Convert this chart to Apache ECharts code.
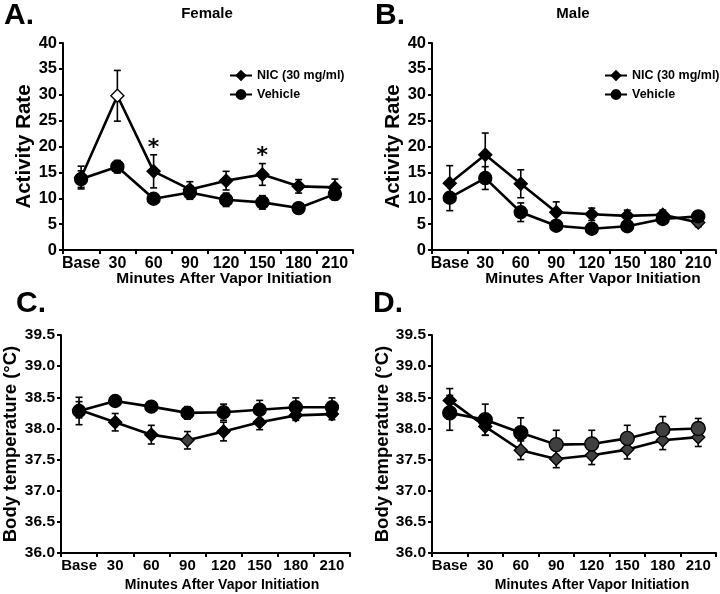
<!DOCTYPE html>
<html>
<head>
<meta charset="utf-8">
<script src="https://cdn.jsdelivr.net/npm/echarts@6/dist/echarts.min.js"></script>
<style>
html, body { margin: 0; padding: 0; background: #fff; }
#main { width: 720px; height: 594px; }
</style>
</head>
<body>
<div id="main"></div>
<script>
// x categories, same for all four panels
var minutes = ['Base', '30', '60', '90', '120', '150', '180', '210'];

// A. Female activity
var femNic = [14.0, 29.8, 15.2, 11.7, 13.4, 14.6, 12.3, 12.1];
var femNicErr = [2.2, 4.9, 3.2, 1.5, 1.8, 2.1, 1.3, 1.6];
var femVeh = [13.7, 16.1, 9.9, 11.1, 9.7, 9.2, 8.1, 10.8];
var femVehErr = [1.6, 1.2, 0.8, 1.3, 1.3, 1.3, 0.9, 1.1];
var femStars = [[2, 19.6], [5, 18.2]];

// B. Male activity
var maleNic = [12.9, 18.4, 12.8, 7.3, 6.9, 6.6, 6.8, 5.3];
var maleNicErr = [3.4, 4.2, 2.7, 2.0, 1.2, 1.1, 0.9, 0.8];
var maleVeh = [10.1, 13.9, 7.3, 4.7, 4.1, 4.6, 6.0, 6.5];
var maleVehErr = [2.5, 2.2, 1.8, 0.5, 0.5, 0.5, 0.6, 0.5];

// C. Female body temperature
var femTNic = [38.30, 38.10, 37.90, 37.81, 37.95, 38.10, 38.21, 38.23];
var femTNicErr = [0.13, 0.14, 0.15, 0.14, 0.15, 0.12, 0.08, 0.09];
var femTVeh = [38.28, 38.44, 38.35, 38.25, 38.26, 38.30, 38.34, 38.34];
var femTVehErr = [0.22, 0.04, 0.06, 0.10, 0.13, 0.15, 0.15, 0.15];

// D. Male body temperature
var maleTNic = [38.45, 38.03, 37.65, 37.51, 37.57, 37.66, 37.81, 37.86];
var maleTNicErr = [0.19, 0.14, 0.15, 0.14, 0.15, 0.15, 0.15, 0.15];
var maleTVeh = [38.25, 38.14, 37.93, 37.74, 37.75, 37.84, 37.98, 38.00];
var maleTVehErr = [0.28, 0.25, 0.24, 0.23, 0.22, 0.21, 0.21, 0.16];

var FONT = '"Liberation Sans", Arial, sans-serif';
var NIC = 'NIC (30 mg/ml)';
var VEH = 'Vehicle';

function errData(mean, err) {
    var out = [];
    for (var i = 0; i < mean.length; i++) {
        out.push([i, mean[i] - err[i], mean[i] + err[i]]);
    }
    return out;
}

function renderErr(params, api) {
    var top = api.coord([api.value(0), api.value(2)]);
    var bot = api.coord([api.value(0), api.value(1)]);
    var w = 3.5;
    var st = { stroke: '#000', lineWidth: 1.6 };
    return {
        type: 'group',
        children: [
            { type: 'line', shape: { x1: top[0], y1: top[1], x2: bot[0], y2: bot[1] }, style: st },
            { type: 'line', shape: { x1: top[0] - w, y1: top[1], x2: top[0] + w, y2: top[1] }, style: st },
            { type: 'line', shape: { x1: bot[0] - w, y1: bot[1], x2: bot[0] + w, y2: bot[1] }, style: st }
        ]
    };
}

function errSeries(idx, mean, err) {
    return {
        type: 'custom',
        name: 'err' + idx + '_' + mean[0],
        xAxisIndex: idx,
        yAxisIndex: idx,
        z: 1,
        silent: true,
        renderItem: renderErr,
        data: errData(mean, err)
    };
}

function pts(vals, fills) {
    return vals.map(function (v, i) {
        if (fills && fills[i]) {
            return { value: v, itemStyle: { color: fills[i] } };
        }
        return v;
    });
}

function lineSeries(idx, name, vals, symbol, size, fills) {
    return {
        type: 'line',
        name: name,
        xAxisIndex: idx,
        yAxisIndex: idx,
        z: 3,
        symbol: symbol,
        symbolSize: size,
        showAllSymbol: true,
        lineStyle: { color: '#000', width: 2.6 },
        itemStyle: { color: '#000', borderColor: '#000', borderWidth: 1.4 },
        data: pts(vals, fills)
    };
}

function xAx(idx, fs, margin) {
    return {
        type: 'category',
        gridIndex: idx,
        data: minutes,
        boundaryGap: true,
        axisLine: { lineStyle: { color: '#000', width: 2 } },
        axisTick: { show: true, length: 4, lineStyle: { color: '#000', width: 2 } },
        axisLabel: { color: '#000', fontFamily: FONT, fontWeight: 'bold', fontSize: fs, margin: margin, interval: 0 },
        splitLine: { show: false }
    };
}

function yAx(idx, min, max, step, name, fs, nfs, gap, dec) {
    return {
        type: 'value',
        gridIndex: idx,
        min: min,
        max: max,
        interval: step,
        name: name,
        nameLocation: 'middle',
        nameGap: gap,
        nameTextStyle: { color: '#000', fontFamily: FONT, fontWeight: 'bold', fontSize: nfs },
        axisLine: { show: true, lineStyle: { color: '#000', width: 2 } },
        axisTick: { show: true, length: 4, lineStyle: { color: '#000', width: 2 } },
        axisLabel: {
            color: '#000', fontFamily: FONT, fontWeight: 'bold', fontSize: fs, margin: 6,
            formatter: function (v) { return dec ? v.toFixed(1) : String(v); }
        },
        splitLine: { show: false }
    };
}

function txt(x, y, s, fs, align) {
    return {
        type: 'text', x: x, y: y,
        style: {
            text: s, fill: '#000', font: 'bold ' + fs + 'px ' + FONT,
            align: align || 'center', verticalAlign: 'middle'
        }
    };
}

var gray = '#404040';
var femNicFill = [null, '#fff', null, null, null, null, null, null];
var femTNicFill = [null, null, null, gray, null, null, null, null];
var maleNicFill = [null, null, null, null, null, null, null, gray];
var maleTNicFill = [null, null, gray, gray, gray, gray, gray, gray];
var maleTVehFill = [null, null, null, gray, gray, gray, gray, gray];

var chart = echarts.init(document.getElementById('main'));

var legendStyle = { color: '#000', fontFamily: FONT, fontWeight: 'bold', fontSize: 12.5 };

chart.setOption({
    backgroundColor: '#fff',
    animation: false,
    grid: [
        { left: 63, top: 43, width: 290, height: 207 },
        { left: 432, top: 43, width: 284, height: 207 },
        { left: 61, top: 335, width: 289, height: 218 },
        { left: 432, top: 335, width: 284, height: 218 }
    ],
    legend: [
        {
            orient: 'vertical', left: 224, top: 64, itemGap: 6, itemWidth: 22, itemHeight: 11,
            data: [NIC, VEH], textStyle: legendStyle, selectedMode: false
        },
        {
            orient: 'vertical', left: 599, top: 64, itemGap: 6, itemWidth: 22, itemHeight: 11,
            data: [NIC, VEH], textStyle: legendStyle, selectedMode: false
        }
    ],
    xAxis: [xAx(0, 16, 6), xAx(1, 16, 6), xAx(2, 15, 5), xAx(3, 15, 5)],
    yAxis: [
        yAx(0, 0, 40, 5, 'Activity Rate', 16.5, 20.5, 23, false),
        yAx(1, 0, 40, 5, 'Activity Rate', 16.5, 20.5, 23, false),
        yAx(2, 36, 39.5, 0.5, 'Body temperature (\u00b0C)', 15.5, 18.5, 41, true),
        yAx(3, 36, 39.5, 0.5, 'Body temperature (\u00b0C)', 15.5, 18.5, 37, true)
    ],
    graphic: [
        txt(4, 16, 'A.', 30, 'left'),
        txt(207, 14, 'Female', 15),
        txt(375, 16, 'B.', 30, 'left'),
        txt(573, 14, 'Male', 15),
        txt(16, 304, 'C.', 30, 'left'),
        txt(373, 304, 'D.', 30, 'left'),
        txt(224, 279, 'Minutes After Vapor Initiation', 15.5),
        txt(593, 279, 'Minutes After Vapor Initiation', 15.5),
        txt(222, 585, 'Minutes After Vapor Initiation', 14),
        txt(592, 585, 'Minutes After Vapor Initiation', 14)
    ],
    series: [
        errSeries(0, femNic, femNicErr),
        errSeries(0, femVeh, femVehErr),
        lineSeries(0, NIC, femNic, 'diamond', 13, femNicFill),
        lineSeries(0, VEH, femVeh, 'circle', 13),
        {
            type: 'scatter', xAxisIndex: 0, yAxisIndex: 0, symbolSize: 1, silent: true,
            itemStyle: { color: '#fff', opacity: 0 },
            label: {
                show: true, position: 'inside', formatter: '*', color: '#000', opacity: 1,
                fontFamily: '"DejaVu Sans", sans-serif', fontWeight: 'bold', fontSize: 22
            },
            data: femStars
        },

        errSeries(1, maleNic, maleNicErr),
        errSeries(1, maleVeh, maleVehErr),
        lineSeries(1, NIC, maleNic, 'diamond', 13, maleNicFill),
        lineSeries(1, VEH, maleVeh, 'circle', 13),

        errSeries(2, femTNic, femTNicErr),
        errSeries(2, femTVeh, femTVehErr),
        lineSeries(2, NIC, femTNic, 'diamond', 13, femTNicFill),
        lineSeries(2, VEH, femTVeh, 'circle', 13),

        errSeries(3, maleTNic, maleTNicErr),
        errSeries(3, maleTVeh, maleTVehErr),
        lineSeries(3, NIC, maleTNic, 'diamond', 13, maleTNicFill),
        lineSeries(3, VEH, maleTVeh, 'circle', 14, maleTVehFill)
    ]
});
</script>
</body>
</html>
